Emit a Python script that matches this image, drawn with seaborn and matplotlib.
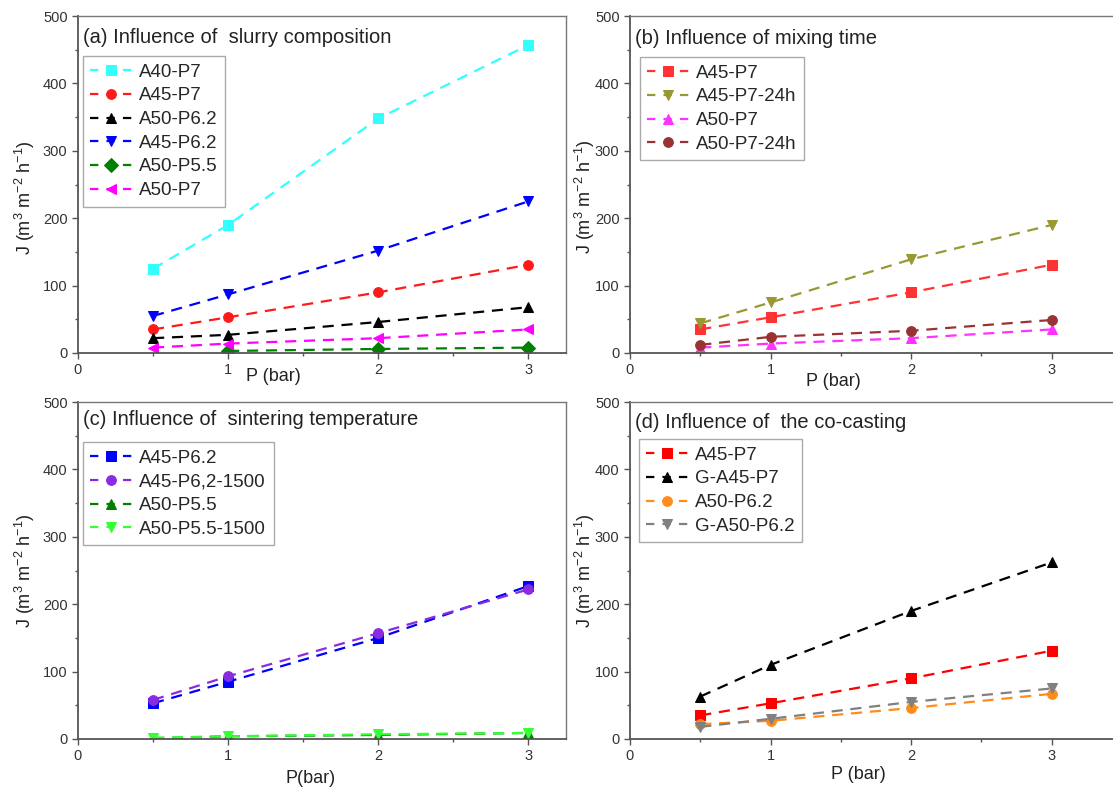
import numpy as np
import matplotlib
matplotlib.use("Agg")
import matplotlib.pyplot as plt
import seaborn as sns
from matplotlib.ticker import MultipleLocator

# pressure points (bar)
P = [0.5, 1, 2, 3]

# (a) slurry composition
a_labels = ["A40-P7", "A45-P7", "A50-P6.2", "A45-P6.2", "A50-P5.5", "A50-P7"]
a_A40_P7 = [125, 190, 348, 457]
a_A45_P7 = [35, 53, 90, 131]
a_A50_P62 = [22, 27, 46, 68]
a_A45_P62 = [55, 87, 152, 225]
a_A50_P55 = [np.nan, 3, 6, 8]
a_A50_P7 = [8, 14, 22, 35]

# (b) mixing time
b_labels = ["A45-P7", "A45-P7-24h", "A50-P7", "A50-P7-24h"]
b_A45_P7 = [35, 53, 90, 131]
b_A45_P7_24h = [44, 75, 139, 190]
b_A50_P7 = [8, 14, 22, 35]
b_A50_P7_24h = [12, 24, 33, 49]

# (c) sintering temperature
c_labels = ["A45-P6.2", "A45-P6,2-1500", "A50-P5.5", "A50-P5.5-1500"]
c_A45_P62 = [53, 85, 150, 227]
c_A45_P62_1500 = [58, 93, 157, 222]
c_A50_P55 = [1, 4, 6, 9]
c_A50_P55_1500 = [2, 4, 7, 9]

# (d) co-casting
d_labels = ["A45-P7", "G-A45-P7", "A50-P6.2", "G-A50-P6.2"]
d_A45_P7 = [35, 53, 90, 131]
d_G_A45_P7 = [63, 110, 190, 262]
d_A50_P62 = [22, 27, 46, 67]
d_G_A50_P62 = [18, 30, 55, 75]

sns.set_style("ticks")
plt.rcParams['font.family'] = ['Liberation Sans', 'DejaVu Sans']
plt.rcParams['mathtext.default'] = 'regular'

fig = plt.figure(figsize=(11.13, 7.89), dpi=100)

W, H = 1113, 789


def make_ax(left, right, top, bottom):
    return fig.add_axes([left / W, 1 - bottom / H, (right - left) / W, (bottom - top) / H])


ax_a = make_ax(78, 566, 16, 353)
ax_b = make_ax(630, 1122, 16, 353)
ax_c = make_ax(78, 566, 402, 739)
ax_d = make_ax(630, 1122, 402, 739)

DASH = (0, (5, 3.5))


def draw(ax, series, labels, colors, markers):
    for y, lab, col, mk in zip(series, labels, colors, markers):
        sns.lineplot(x=P, y=y, ax=ax, color=col, marker=mk, markersize=7,
                     markeredgecolor=col, linestyle=DASH, linewidth=1.6, label=lab)


draw(ax_a, [a_A40_P7, a_A45_P7, a_A50_P62, a_A45_P62, a_A50_P55, a_A50_P7], a_labels,
     ['#33ffff', '#ff1a1a', 'black', '#0000ff', '#008000', '#ff00ff'],
     ['s', 'o', '^', 'v', 'D', '<'])
draw(ax_b, [b_A45_P7, b_A45_P7_24h, b_A50_P7, b_A50_P7_24h], b_labels,
     ['#ff3333', '#999933', '#ff33ff', '#993333'],
     ['s', 'v', '^', 'o'])
draw(ax_c, [c_A45_P62, c_A45_P62_1500, c_A50_P55, c_A50_P55_1500], c_labels,
     ['#0000ff', '#8a2be2', '#008000', '#33ff33'],
     ['s', 'o', '^', 'v'])
draw(ax_d, [d_A45_P7, d_G_A45_P7, d_A50_P62, d_G_A50_P62], d_labels,
     ['#ff0000', 'black', '#ff8c1a', '#808080'],
     ['s', '^', 'o', 'v'])

titles = ["(a) Influence of  slurry composition", "(b) Influence of mixing time",
          "(c) Influence of  sintering temperature", "(d) Influence of  the co-casting"]
xlabels = ["P (bar)", "P (bar)", "P(bar)", "P (bar)"]
xlab_pos = [(0.40, -0.045), (0.413, -0.059), (0.477, -0.092), (0.465, -0.08)]
ylab_pos = [(-0.084, 0.46), (-0.067, 0.465), (-0.084, 0.5), (-0.067, 0.5)]
title_y = [0.935, 0.932, 0.947, 0.94]
leg_pos = [(0.01, 0.881), (0.02, 0.878), (0.01, 0.881), (0.018, 0.89)]
xmaxes = [3.25, 3.5, 3.25, 3.5]

for i, ax in enumerate([ax_a, ax_b, ax_c, ax_d]):
    ax.set_xlim(0, xmaxes[i])
    ax.set_ylim(0, 500)
    ax.xaxis.set_major_locator(MultipleLocator(1))
    ax.xaxis.set_minor_locator(MultipleLocator(0.5))
    ax.yaxis.set_major_locator(MultipleLocator(100))
    ax.yaxis.set_minor_locator(MultipleLocator(50))
    ax.tick_params(which='major', direction='out', length=4, width=1, colors='#555555',
                   labelsize=10.5, labelcolor='#333333')
    ax.tick_params(which='minor', direction='out', length=2.5, width=1, colors='#555555')
    for side in ['left', 'bottom']:
        ax.spines[side].set_color('#555555')
        ax.spines[side].set_linewidth(1.3)
    for side in ['top', 'right']:
        ax.spines[side].set_color('#777777')
        ax.spines[side].set_linewidth(1.0)
    ax.set_xlabel(xlabels[i], fontsize=13, color='#222222')
    ax.xaxis.set_label_coords(*xlab_pos[i])
    ax.set_ylabel("J (m$^{3}$ m$^{-2}$ h$^{-1}$)", fontsize=13, color='#222222')
    ax.yaxis.set_label_coords(*ylab_pos[i])
    ax.text(0.01, title_y[i], titles[i], transform=ax.transAxes, fontsize=14.5,
            va='center', ha='left', color='#222222')
    leg = ax.legend(loc='upper left', bbox_to_anchor=leg_pos[i], fontsize=13.5,
                    frameon=True, fancybox=False, edgecolor='#aaaaaa', framealpha=1,
                    handlelength=2.2, handletextpad=0.4, labelspacing=0.35,
                    borderpad=0.4, borderaxespad=0)
    leg.get_frame().set_linewidth(1.0)
    # dash pattern so that each legend handle reads "- marker -"
    for ln in leg.get_lines():
        ln.set_linestyle((0, (3.75, 3.66)))

fig.savefig("out.png", dpi=100)
